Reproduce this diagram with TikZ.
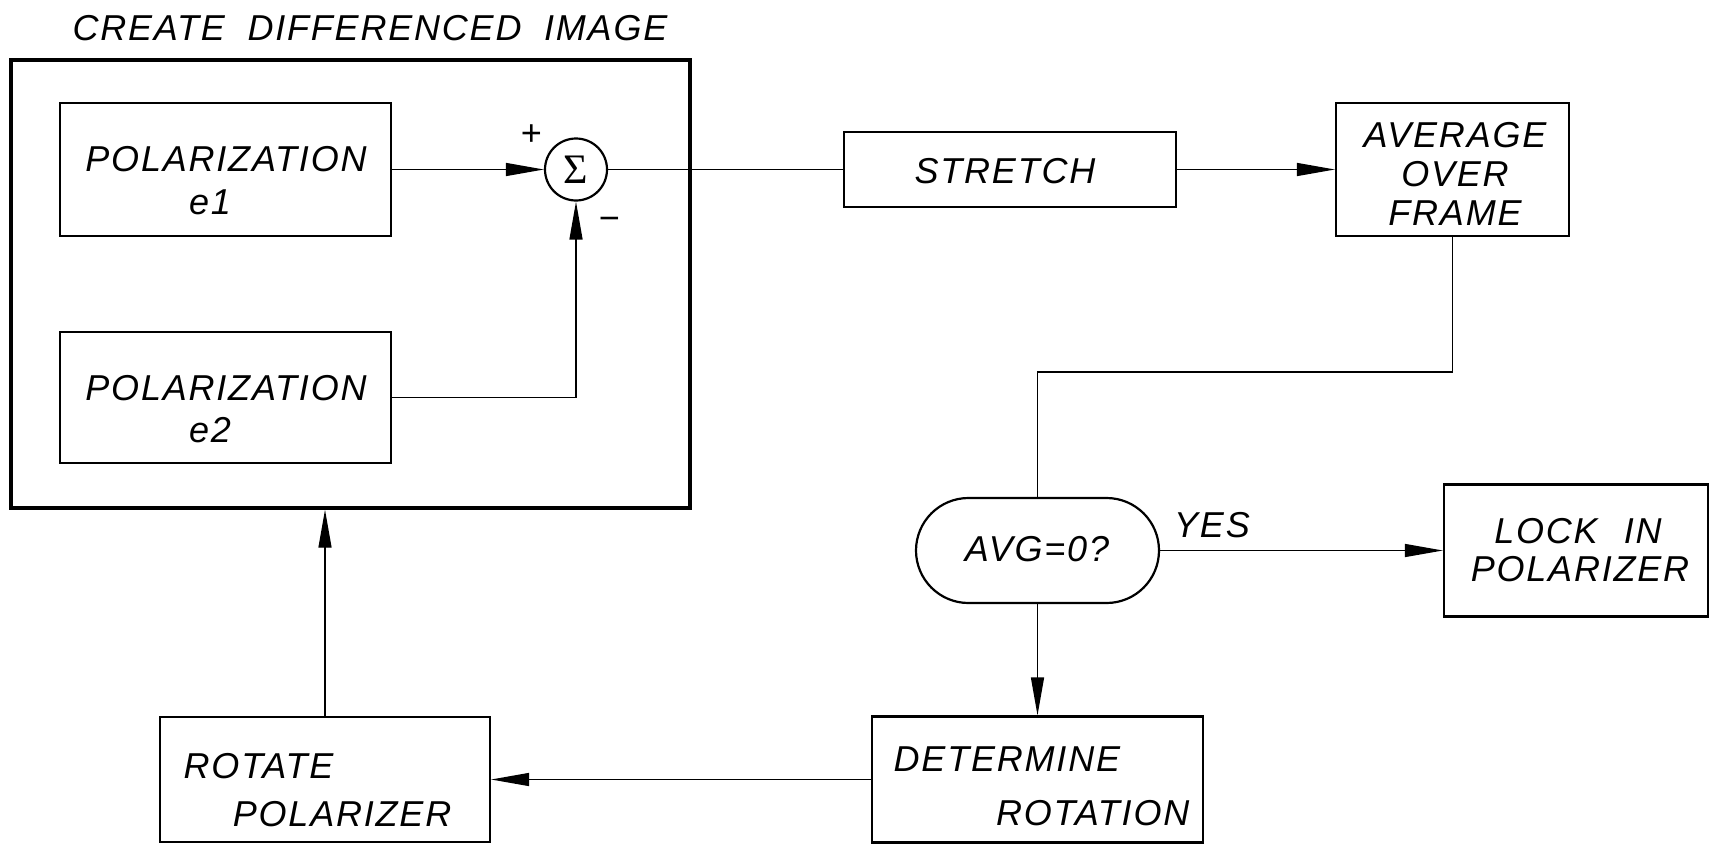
\documentclass[tikz,border=0pt]{standalone}
\usepackage{fontspec}
\usetikzlibrary{arrows.meta,shapes.misc}
\newfontfamily\hfont{Liberation Sans}[LetterSpace=5]
\newfontfamily\sigfont{Liberation Serif}

\tikzset{every picture/.style={line width=0.7pt}}
\tikzset{
  blk/.style={draw, rectangle, line width=1.1pt, inner sep=0pt},
  lbl/.style={inner sep=0pt, font=\hfont\itshape\fontsize{18}{22}\selectfont},
  flow/.style={-{Triangle[length=19pt,width=6.5pt]}},
}

\begin{document}
\begin{tikzpicture}[x=0.5pt,y=0.5pt,yscale=-1]
\useasboundingbox (0,0) rectangle (1714,851);
%Shape: Rectangle [id:diffbox]
\node [blk, line width=1.7pt, minimum width=339.5pt, minimum height=224pt] (diffbox) at (350.5,284) {};
%Shape: Rectangle [id:pole1]
\node [blk, minimum width=165.5pt, minimum height=66.5pt] (pole1) at (225.5,169.5) {};
%Shape: Rectangle [id:pole2]
\node [blk, minimum width=165.5pt, minimum height=65.5pt] (pole2) at (225.5,397.5) {};
%Shape: Circle [id:sumpt]
\node [draw, circle, line width=1.1pt, minimum size=31pt, inner sep=0pt] (sumpt) at (576,169.5) {};
%Shape: Rectangle [id:stretch]
\node [blk, minimum width=166pt, minimum height=37.5pt] (stretch) at (1010,169.5) {};
%Shape: Rectangle [id:avgframe]
\node [blk, minimum width=116.5pt, minimum height=66.5pt] (avgframe) at (1452.5,169.5) {};
%Shape: Rounded Rectangle [id:avgzero]
\node [draw, rounded rectangle, line width=1.1pt, minimum width=121.5pt, minimum height=52.5pt, inner sep=0pt] (avgzero) at (1037.5,550.5) {};
%Shape: Rectangle [id:lockpol]
\node [blk, minimum width=132pt, minimum height=66pt] (lockpol) at (1576,550.5) {};
%Shape: Rectangle [id:detrot]
\node [blk, minimum width=165.5pt, minimum height=63pt] (detrot) at (1037.5,779.5) {};
%Shape: Rectangle [id:rotpol]
\node [blk, minimum width=165pt, minimum height=62.5pt] (rotpol) at (325,779.5) {};
\coordinate (avgturn) at (1452.5,372);

%Straight Lines
\draw [flow] (pole1.east) -- (sumpt.west);
\draw [flow] (pole2.east) -| (sumpt.south);
\draw (sumpt.east) -- (stretch.west);
\draw [flow] (stretch.east) -- (avgframe.west);
\draw (avgframe.south) -- (avgturn) -| (avgzero.north);
\draw [flow] (avgzero.east) -- (lockpol.west);
\draw [flow] (avgzero.south) -- (detrot.north);
\draw [flow] (detrot.west) -- (rotpol.east);
\draw [flow] (rotpol.north) -- (rotpol.north |- diffbox.south);

% Text Node
\node [lbl, anchor=base] (difftitle) at (370,40) {CREATE\hspace{0.3em} DIFFERENCED\hspace{0.3em} IMAGE};
% Text Node
\node [lbl, anchor=base] (pole1a) at (226,171) {POLARIZATION};
\node [lbl, anchor=base] (pole1b) at (210,214) {e1};
% Text Node
\node [lbl, anchor=base] (pole2a) at (226,400) {POLARIZATION};
\node [lbl, anchor=base] (pole2b) at (210,442) {e2};
% Text Node
\node [inner sep=0pt, font=\sigfont\fontsize{21}{24}\selectfont] (sumsym) at (sumpt) {Σ};
\node [lbl] (plus) at (531,135) {+};
\node [lbl] (minus) at (609,224) {−};
% Text Node
\node [lbl, anchor=base] (stretchtxt) at (1005,183) {STRETCH};
% Text Node
\node [lbl, anchor=base] (avga) at (1455,147) {AVERAGE};
\node [lbl, anchor=base] (avgb) at (1455,186) {OVER};
\node [lbl, anchor=base] (avgc) at (1455,225) {FRAME};
% Text Node
\node [lbl, anchor=base] (avgzerotxt) at (1037,561) {AVG=0?};
\node [lbl, anchor=base] (yes) at (1212,537) {YES};
% Text Node
\node [lbl, anchor=base] (locka) at (1578,543) {LOCK\hspace{0.4em} IN};
\node [lbl, anchor=base] (lockb) at (1580,581) {POLARIZER};
% Text Node
\node [lbl, anchor=base west] (deta) at (893,771) {DETERMINE};
\node [lbl, anchor=base east] (detb) at (1190,825) {ROTATION};
% Text Node
\node [lbl, anchor=base west] (rota) at (183,778) {ROTATE};
\node [lbl, anchor=base east] (rotb) at (452,826) {POLARIZER};
\end{tikzpicture}
\end{document}
